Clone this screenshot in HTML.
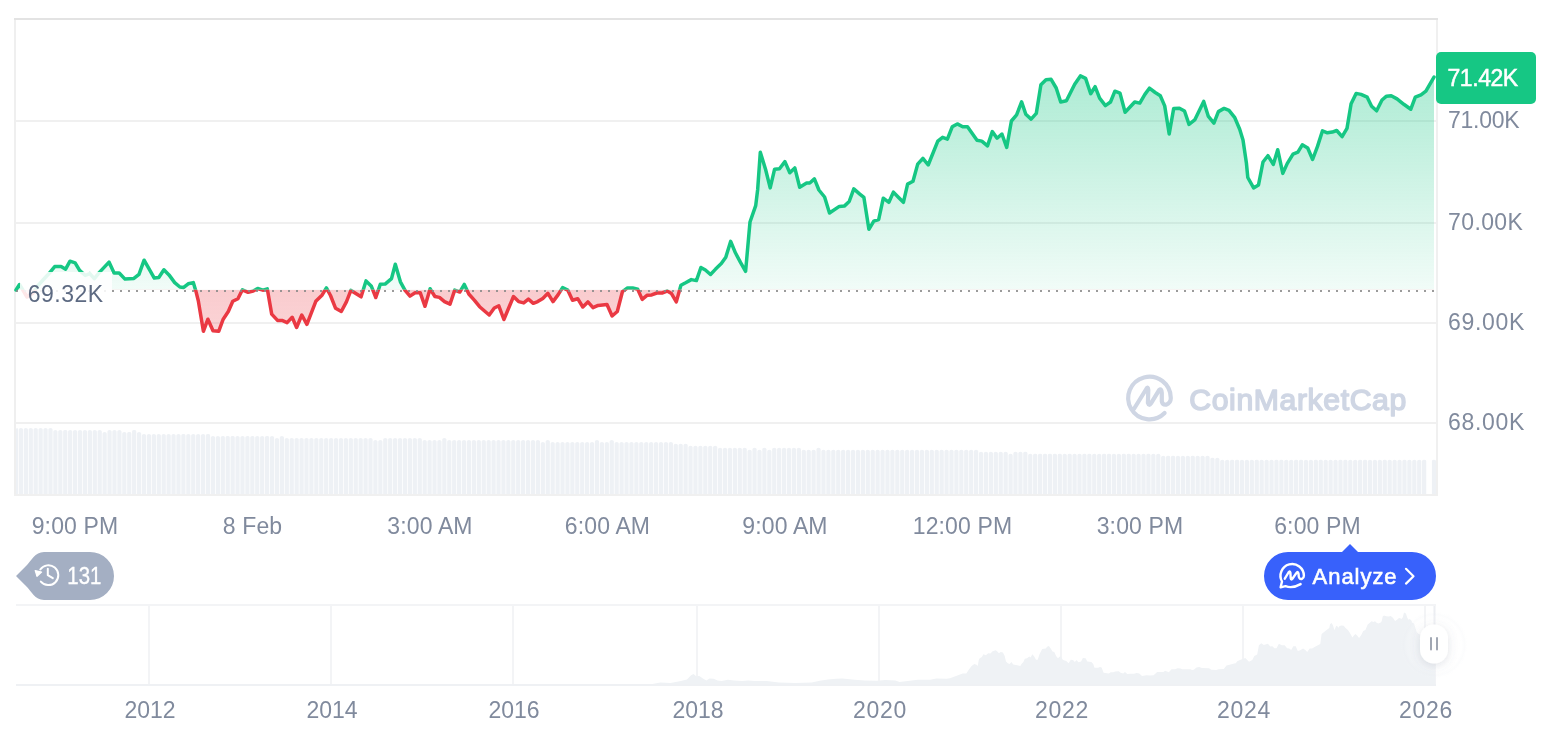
<!DOCTYPE html><html><head><meta charset="utf-8"><title>BTC chart</title><style>
html,body{margin:0;padding:0;background:#fff;width:1566px;height:732px;overflow:hidden}
svg{display:block;will-change:transform}
text{font-family:"Liberation Sans",Arial,sans-serif}
</style></head><body>
<svg width="1566" height="732" viewBox="0 0 1566 732">
<defs>
<linearGradient id="gg" x1="0" y1="76" x2="0" y2="289.75" gradientUnits="userSpaceOnUse"><stop offset="0" stop-color="#16c784" stop-opacity="0.35"/><stop offset="1" stop-color="#16c784" stop-opacity="0.06"/></linearGradient>
<linearGradient id="rg" x1="0" y1="289.75" x2="0" y2="333" gradientUnits="userSpaceOnUse"><stop offset="0" stop-color="#ea3943" stop-opacity="0.26"/><stop offset="1" stop-color="#ea3943" stop-opacity="0.22"/></linearGradient>
<clipPath id="cu"><rect x="0" y="0" width="1436" height="289.75"/><rect x="0" y="0" width="19" height="300"/></clipPath>
<clipPath id="cd"><rect x="19" y="289.75" width="1417" height="300"/></clipPath>
<filter id="sh" x="-100%" y="-100%" width="300%" height="300%"><feDropShadow dx="0" dy="2" stdDeviation="5" flood-color="#58667e" flood-opacity="0.18"/></filter>
</defs>
<rect x="14" y="18" width="2" height="478" fill="#efefef"/>
<rect x="1436" y="18" width="2" height="478" fill="#f0f0f0"/>
<rect x="14" y="18" width="1424" height="2" fill="#e3e3e3"/>
<rect x="14" y="494" width="1424" height="2" fill="#f0f0f0"/>
<rect x="16" y="120" width="1420" height="2" fill="#f0f0f0"/>
<rect x="16" y="222" width="1420" height="2" fill="#f0f0f0"/>
<rect x="16" y="322" width="1420" height="2" fill="#f0f0f0"/>
<rect x="16" y="422" width="1420" height="2" fill="#f0f0f0"/>
<path d="M16.00 494V429.5a1.05 1.5 0 0 1 2.10 0V494z M18.82 494V429.5a2.10 1.5 0 0 1 4.20 0V494z M23.75 494V429.5a2.10 1.5 0 0 1 4.20 0V494z M28.67 494V429.5a2.10 1.5 0 0 1 4.20 0V494z M33.59 494V429.5a2.10 1.5 0 0 1 4.20 0V494z M38.52 494V429.5a2.10 1.5 0 0 1 4.20 0V494z M43.44 494V429.5a2.10 1.5 0 0 1 4.20 0V494z M48.37 494V429.5a2.10 1.5 0 0 1 4.20 0V494z M53.29 494V431.6a2.10 1.5 0 0 1 4.20 0V494z M58.21 494V431.6a2.10 1.5 0 0 1 4.20 0V494z M63.14 494V431.6a2.10 1.5 0 0 1 4.20 0V494z M68.06 494V431.6a2.10 1.5 0 0 1 4.20 0V494z M72.98 494V431.6a2.10 1.5 0 0 1 4.20 0V494z M77.91 494V431.6a2.10 1.5 0 0 1 4.20 0V494z M82.83 494V431.6a2.10 1.5 0 0 1 4.20 0V494z M87.75 494V431.6a2.10 1.5 0 0 1 4.20 0V494z M92.68 494V431.6a2.10 1.5 0 0 1 4.20 0V494z M97.60 494V431.6a2.10 1.5 0 0 1 4.20 0V494z M102.53 494V433.6a2.10 1.5 0 0 1 4.20 0V494z M107.45 494V431.6a2.10 1.5 0 0 1 4.20 0V494z M112.37 494V431.6a2.10 1.5 0 0 1 4.20 0V494z M117.30 494V431.6a2.10 1.5 0 0 1 4.20 0V494z M122.22 494V433.6a2.10 1.5 0 0 1 4.20 0V494z M127.14 494V433.6a2.10 1.5 0 0 1 4.20 0V494z M132.07 494V431.6a2.10 1.5 0 0 1 4.20 0V494z M136.99 494V433.6a2.10 1.5 0 0 1 4.20 0V494z M141.91 494V435.6a2.10 1.5 0 0 1 4.20 0V494z M146.84 494V435.6a2.10 1.5 0 0 1 4.20 0V494z M151.76 494V435.6a2.10 1.5 0 0 1 4.20 0V494z M156.68 494V435.6a2.10 1.5 0 0 1 4.20 0V494z M161.61 494V435.6a2.10 1.5 0 0 1 4.20 0V494z M166.53 494V435.6a2.10 1.5 0 0 1 4.20 0V494z M171.46 494V435.6a2.10 1.5 0 0 1 4.20 0V494z M176.38 494V435.6a2.10 1.5 0 0 1 4.20 0V494z M181.30 494V435.6a2.10 1.5 0 0 1 4.20 0V494z M186.23 494V435.6a2.10 1.5 0 0 1 4.20 0V494z M191.15 494V435.6a2.10 1.5 0 0 1 4.20 0V494z M196.07 494V435.6a2.10 1.5 0 0 1 4.20 0V494z M201.00 494V435.6a2.10 1.5 0 0 1 4.20 0V494z M205.92 494V435.6a2.10 1.5 0 0 1 4.20 0V494z M210.84 494V437.5a2.10 1.5 0 0 1 4.20 0V494z M215.77 494V437.5a2.10 1.5 0 0 1 4.20 0V494z M220.69 494V437.5a2.10 1.5 0 0 1 4.20 0V494z M225.62 494V437.5a2.10 1.5 0 0 1 4.20 0V494z M230.54 494V437.5a2.10 1.5 0 0 1 4.20 0V494z M235.46 494V437.5a2.10 1.5 0 0 1 4.20 0V494z M240.39 494V437.5a2.10 1.5 0 0 1 4.20 0V494z M245.31 494V437.5a2.10 1.5 0 0 1 4.20 0V494z M250.23 494V437.5a2.10 1.5 0 0 1 4.20 0V494z M255.16 494V437.5a2.10 1.5 0 0 1 4.20 0V494z M260.08 494V437.5a2.10 1.5 0 0 1 4.20 0V494z M265.00 494V437.5a2.10 1.5 0 0 1 4.20 0V494z M269.93 494V437.5a2.10 1.5 0 0 1 4.20 0V494z M274.85 494V439.4a2.10 1.5 0 0 1 4.20 0V494z M279.77 494V437.5a2.10 1.5 0 0 1 4.20 0V494z M284.70 494V439.4a2.10 1.5 0 0 1 4.20 0V494z M289.62 494V439.4a2.10 1.5 0 0 1 4.20 0V494z M294.55 494V439.4a2.10 1.5 0 0 1 4.20 0V494z M299.47 494V439.4a2.10 1.5 0 0 1 4.20 0V494z M304.39 494V439.4a2.10 1.5 0 0 1 4.20 0V494z M309.32 494V439.4a2.10 1.5 0 0 1 4.20 0V494z M314.24 494V439.4a2.10 1.5 0 0 1 4.20 0V494z M319.16 494V439.4a2.10 1.5 0 0 1 4.20 0V494z M324.09 494V439.4a2.10 1.5 0 0 1 4.20 0V494z M329.01 494V439.4a2.10 1.5 0 0 1 4.20 0V494z M333.93 494V439.4a2.10 1.5 0 0 1 4.20 0V494z M338.86 494V439.4a2.10 1.5 0 0 1 4.20 0V494z M343.78 494V439.4a2.10 1.5 0 0 1 4.20 0V494z M348.71 494V439.4a2.10 1.5 0 0 1 4.20 0V494z M353.63 494V439.4a2.10 1.5 0 0 1 4.20 0V494z M358.55 494V439.4a2.10 1.5 0 0 1 4.20 0V494z M363.48 494V439.4a2.10 1.5 0 0 1 4.20 0V494z M368.40 494V439.4a2.10 1.5 0 0 1 4.20 0V494z M373.32 494V441.4a2.10 1.5 0 0 1 4.20 0V494z M378.25 494V441.4a2.10 1.5 0 0 1 4.20 0V494z M383.17 494V439.4a2.10 1.5 0 0 1 4.20 0V494z M388.09 494V439.4a2.10 1.5 0 0 1 4.20 0V494z M393.02 494V439.4a2.10 1.5 0 0 1 4.20 0V494z M397.94 494V439.4a2.10 1.5 0 0 1 4.20 0V494z M402.87 494V439.4a2.10 1.5 0 0 1 4.20 0V494z M407.79 494V439.4a2.10 1.5 0 0 1 4.20 0V494z M412.71 494V439.4a2.10 1.5 0 0 1 4.20 0V494z M417.64 494V439.4a2.10 1.5 0 0 1 4.20 0V494z M422.56 494V441.4a2.10 1.5 0 0 1 4.20 0V494z M427.48 494V441.4a2.10 1.5 0 0 1 4.20 0V494z M432.41 494V441.4a2.10 1.5 0 0 1 4.20 0V494z M437.33 494V441.4a2.10 1.5 0 0 1 4.20 0V494z M442.25 494V439.4a2.10 1.5 0 0 1 4.20 0V494z M447.18 494V441.4a2.10 1.5 0 0 1 4.20 0V494z M452.10 494V441.4a2.10 1.5 0 0 1 4.20 0V494z M457.02 494V441.4a2.10 1.5 0 0 1 4.20 0V494z M461.95 494V441.4a2.10 1.5 0 0 1 4.20 0V494z M466.87 494V441.4a2.10 1.5 0 0 1 4.20 0V494z M471.80 494V441.4a2.10 1.5 0 0 1 4.20 0V494z M476.72 494V441.4a2.10 1.5 0 0 1 4.20 0V494z M481.64 494V441.4a2.10 1.5 0 0 1 4.20 0V494z M486.57 494V441.4a2.10 1.5 0 0 1 4.20 0V494z M491.49 494V441.4a2.10 1.5 0 0 1 4.20 0V494z M496.41 494V441.4a2.10 1.5 0 0 1 4.20 0V494z M501.34 494V441.4a2.10 1.5 0 0 1 4.20 0V494z M506.26 494V441.4a2.10 1.5 0 0 1 4.20 0V494z M511.18 494V441.4a2.10 1.5 0 0 1 4.20 0V494z M516.11 494V441.4a2.10 1.5 0 0 1 4.20 0V494z M521.03 494V441.4a2.10 1.5 0 0 1 4.20 0V494z M525.96 494V441.4a2.10 1.5 0 0 1 4.20 0V494z M530.88 494V441.4a2.10 1.5 0 0 1 4.20 0V494z M535.80 494V441.4a2.10 1.5 0 0 1 4.20 0V494z M540.73 494V443.4a2.10 1.5 0 0 1 4.20 0V494z M545.65 494V441.4a2.10 1.5 0 0 1 4.20 0V494z M550.57 494V443.4a2.10 1.5 0 0 1 4.20 0V494z M555.50 494V443.4a2.10 1.5 0 0 1 4.20 0V494z M560.42 494V443.4a2.10 1.5 0 0 1 4.20 0V494z M565.34 494V443.4a2.10 1.5 0 0 1 4.20 0V494z M570.27 494V443.4a2.10 1.5 0 0 1 4.20 0V494z M575.19 494V443.4a2.10 1.5 0 0 1 4.20 0V494z M580.12 494V443.4a2.10 1.5 0 0 1 4.20 0V494z M585.04 494V443.4a2.10 1.5 0 0 1 4.20 0V494z M589.96 494V443.4a2.10 1.5 0 0 1 4.20 0V494z M594.89 494V441.4a2.10 1.5 0 0 1 4.20 0V494z M599.81 494V443.4a2.10 1.5 0 0 1 4.20 0V494z M604.73 494V443.4a2.10 1.5 0 0 1 4.20 0V494z M609.66 494V441.4a2.10 1.5 0 0 1 4.20 0V494z M614.58 494V443.4a2.10 1.5 0 0 1 4.20 0V494z M619.50 494V443.4a2.10 1.5 0 0 1 4.20 0V494z M624.43 494V443.4a2.10 1.5 0 0 1 4.20 0V494z M629.35 494V443.4a2.10 1.5 0 0 1 4.20 0V494z M634.27 494V443.4a2.10 1.5 0 0 1 4.20 0V494z M639.20 494V443.4a2.10 1.5 0 0 1 4.20 0V494z M644.12 494V443.4a2.10 1.5 0 0 1 4.20 0V494z M649.05 494V443.4a2.10 1.5 0 0 1 4.20 0V494z M653.97 494V443.4a2.10 1.5 0 0 1 4.20 0V494z M658.89 494V443.4a2.10 1.5 0 0 1 4.20 0V494z M663.82 494V443.4a2.10 1.5 0 0 1 4.20 0V494z M668.74 494V443.4a2.10 1.5 0 0 1 4.20 0V494z M673.66 494V445.3a2.10 1.5 0 0 1 4.20 0V494z M678.59 494V445.3a2.10 1.5 0 0 1 4.20 0V494z M683.51 494V445.3a2.10 1.5 0 0 1 4.20 0V494z M688.43 494V447.3a2.10 1.5 0 0 1 4.20 0V494z M693.36 494V447.3a2.10 1.5 0 0 1 4.20 0V494z M698.28 494V447.3a2.10 1.5 0 0 1 4.20 0V494z M703.21 494V447.3a2.10 1.5 0 0 1 4.20 0V494z M708.13 494V447.3a2.10 1.5 0 0 1 4.20 0V494z M713.05 494V447.3a2.10 1.5 0 0 1 4.20 0V494z M717.98 494V449.3a2.10 1.5 0 0 1 4.20 0V494z M722.90 494V449.3a2.10 1.5 0 0 1 4.20 0V494z M727.82 494V449.3a2.10 1.5 0 0 1 4.20 0V494z M732.75 494V449.3a2.10 1.5 0 0 1 4.20 0V494z M737.67 494V449.3a2.10 1.5 0 0 1 4.20 0V494z M742.59 494V449.3a2.10 1.5 0 0 1 4.20 0V494z M747.52 494V451.3a2.10 1.5 0 0 1 4.20 0V494z M752.44 494V449.3a2.10 1.5 0 0 1 4.20 0V494z M757.37 494V451.3a2.10 1.5 0 0 1 4.20 0V494z M762.29 494V449.3a2.10 1.5 0 0 1 4.20 0V494z M767.21 494V451.3a2.10 1.5 0 0 1 4.20 0V494z M772.14 494V449.3a2.10 1.5 0 0 1 4.20 0V494z M777.06 494V449.3a2.10 1.5 0 0 1 4.20 0V494z M781.98 494V449.3a2.10 1.5 0 0 1 4.20 0V494z M786.91 494V449.3a2.10 1.5 0 0 1 4.20 0V494z M791.83 494V449.3a2.10 1.5 0 0 1 4.20 0V494z M796.75 494V449.3a2.10 1.5 0 0 1 4.20 0V494z M801.68 494V451.3a2.10 1.5 0 0 1 4.20 0V494z M806.60 494V451.3a2.10 1.5 0 0 1 4.20 0V494z M811.52 494V451.3a2.10 1.5 0 0 1 4.20 0V494z M816.45 494V449.3a2.10 1.5 0 0 1 4.20 0V494z M821.37 494V451.3a2.10 1.5 0 0 1 4.20 0V494z M826.30 494V451.3a2.10 1.5 0 0 1 4.20 0V494z M831.22 494V451.3a2.10 1.5 0 0 1 4.20 0V494z M836.14 494V451.3a2.10 1.5 0 0 1 4.20 0V494z M841.07 494V451.3a2.10 1.5 0 0 1 4.20 0V494z M845.99 494V451.3a2.10 1.5 0 0 1 4.20 0V494z M850.91 494V451.3a2.10 1.5 0 0 1 4.20 0V494z M855.84 494V451.3a2.10 1.5 0 0 1 4.20 0V494z M860.76 494V451.3a2.10 1.5 0 0 1 4.20 0V494z M865.68 494V451.3a2.10 1.5 0 0 1 4.20 0V494z M870.61 494V451.3a2.10 1.5 0 0 1 4.20 0V494z M875.53 494V451.3a2.10 1.5 0 0 1 4.20 0V494z M880.46 494V451.3a2.10 1.5 0 0 1 4.20 0V494z M885.38 494V451.3a2.10 1.5 0 0 1 4.20 0V494z M890.30 494V451.3a2.10 1.5 0 0 1 4.20 0V494z M895.23 494V451.3a2.10 1.5 0 0 1 4.20 0V494z M900.15 494V451.3a2.10 1.5 0 0 1 4.20 0V494z M905.07 494V451.3a2.10 1.5 0 0 1 4.20 0V494z M910.00 494V451.3a2.10 1.5 0 0 1 4.20 0V494z M914.92 494V451.3a2.10 1.5 0 0 1 4.20 0V494z M919.84 494V451.3a2.10 1.5 0 0 1 4.20 0V494z M924.77 494V451.3a2.10 1.5 0 0 1 4.20 0V494z M929.69 494V451.3a2.10 1.5 0 0 1 4.20 0V494z M934.62 494V451.3a2.10 1.5 0 0 1 4.20 0V494z M939.54 494V451.3a2.10 1.5 0 0 1 4.20 0V494z M944.46 494V451.3a2.10 1.5 0 0 1 4.20 0V494z M949.39 494V451.3a2.10 1.5 0 0 1 4.20 0V494z M954.31 494V451.3a2.10 1.5 0 0 1 4.20 0V494z M959.23 494V451.3a2.10 1.5 0 0 1 4.20 0V494z M964.16 494V451.3a2.10 1.5 0 0 1 4.20 0V494z M969.08 494V451.3a2.10 1.5 0 0 1 4.20 0V494z M974.00 494V451.3a2.10 1.5 0 0 1 4.20 0V494z M978.93 494V453.3a2.10 1.5 0 0 1 4.20 0V494z M983.85 494V453.3a2.10 1.5 0 0 1 4.20 0V494z M988.77 494V453.3a2.10 1.5 0 0 1 4.20 0V494z M993.70 494V453.3a2.10 1.5 0 0 1 4.20 0V494z M998.62 494V453.3a2.10 1.5 0 0 1 4.20 0V494z M1003.55 494V453.3a2.10 1.5 0 0 1 4.20 0V494z M1008.47 494V455.3a2.10 1.5 0 0 1 4.20 0V494z M1013.39 494V453.3a2.10 1.5 0 0 1 4.20 0V494z M1018.32 494V453.3a2.10 1.5 0 0 1 4.20 0V494z M1023.24 494V453.3a2.10 1.5 0 0 1 4.20 0V494z M1028.16 494V455.3a2.10 1.5 0 0 1 4.20 0V494z M1033.09 494V455.3a2.10 1.5 0 0 1 4.20 0V494z M1038.01 494V455.3a2.10 1.5 0 0 1 4.20 0V494z M1042.93 494V455.3a2.10 1.5 0 0 1 4.20 0V494z M1047.86 494V455.3a2.10 1.5 0 0 1 4.20 0V494z M1052.78 494V455.3a2.10 1.5 0 0 1 4.20 0V494z M1057.71 494V455.3a2.10 1.5 0 0 1 4.20 0V494z M1062.63 494V455.3a2.10 1.5 0 0 1 4.20 0V494z M1067.55 494V455.3a2.10 1.5 0 0 1 4.20 0V494z M1072.48 494V455.3a2.10 1.5 0 0 1 4.20 0V494z M1077.40 494V455.3a2.10 1.5 0 0 1 4.20 0V494z M1082.32 494V455.3a2.10 1.5 0 0 1 4.20 0V494z M1087.25 494V455.3a2.10 1.5 0 0 1 4.20 0V494z M1092.17 494V455.3a2.10 1.5 0 0 1 4.20 0V494z M1097.09 494V455.3a2.10 1.5 0 0 1 4.20 0V494z M1102.02 494V455.3a2.10 1.5 0 0 1 4.20 0V494z M1106.94 494V455.3a2.10 1.5 0 0 1 4.20 0V494z M1111.87 494V455.3a2.10 1.5 0 0 1 4.20 0V494z M1116.79 494V455.3a2.10 1.5 0 0 1 4.20 0V494z M1121.71 494V455.3a2.10 1.5 0 0 1 4.20 0V494z M1126.64 494V455.3a2.10 1.5 0 0 1 4.20 0V494z M1131.56 494V455.3a2.10 1.5 0 0 1 4.20 0V494z M1136.48 494V455.3a2.10 1.5 0 0 1 4.20 0V494z M1141.41 494V455.3a2.10 1.5 0 0 1 4.20 0V494z M1146.33 494V455.3a2.10 1.5 0 0 1 4.20 0V494z M1151.25 494V455.3a2.10 1.5 0 0 1 4.20 0V494z M1156.18 494V455.3a2.10 1.5 0 0 1 4.20 0V494z M1161.10 494V457.3a2.10 1.5 0 0 1 4.20 0V494z M1166.03 494V457.3a2.10 1.5 0 0 1 4.20 0V494z M1170.95 494V457.3a2.10 1.5 0 0 1 4.20 0V494z M1175.87 494V457.3a2.10 1.5 0 0 1 4.20 0V494z M1180.80 494V457.3a2.10 1.5 0 0 1 4.20 0V494z M1185.72 494V457.3a2.10 1.5 0 0 1 4.20 0V494z M1190.64 494V457.3a2.10 1.5 0 0 1 4.20 0V494z M1195.57 494V457.3a2.10 1.5 0 0 1 4.20 0V494z M1200.49 494V457.3a2.10 1.5 0 0 1 4.20 0V494z M1205.41 494V457.3a2.10 1.5 0 0 1 4.20 0V494z M1210.34 494V459.3a2.10 1.5 0 0 1 4.20 0V494z M1215.26 494V459.3a2.10 1.5 0 0 1 4.20 0V494z M1220.18 494V461.3a2.10 1.5 0 0 1 4.20 0V494z M1225.11 494V461.3a2.10 1.5 0 0 1 4.20 0V494z M1230.03 494V461.3a2.10 1.5 0 0 1 4.20 0V494z M1234.96 494V461.3a2.10 1.5 0 0 1 4.20 0V494z M1239.88 494V461.3a2.10 1.5 0 0 1 4.20 0V494z M1244.80 494V461.3a2.10 1.5 0 0 1 4.20 0V494z M1249.73 494V461.3a2.10 1.5 0 0 1 4.20 0V494z M1254.65 494V461.3a2.10 1.5 0 0 1 4.20 0V494z M1259.57 494V461.3a2.10 1.5 0 0 1 4.20 0V494z M1264.50 494V461.3a2.10 1.5 0 0 1 4.20 0V494z M1269.42 494V461.3a2.10 1.5 0 0 1 4.20 0V494z M1274.34 494V461.3a2.10 1.5 0 0 1 4.20 0V494z M1279.27 494V461.3a2.10 1.5 0 0 1 4.20 0V494z M1284.19 494V461.3a2.10 1.5 0 0 1 4.20 0V494z M1289.12 494V461.3a2.10 1.5 0 0 1 4.20 0V494z M1294.04 494V461.3a2.10 1.5 0 0 1 4.20 0V494z M1298.96 494V461.3a2.10 1.5 0 0 1 4.20 0V494z M1303.89 494V461.3a2.10 1.5 0 0 1 4.20 0V494z M1308.81 494V461.3a2.10 1.5 0 0 1 4.20 0V494z M1313.73 494V461.3a2.10 1.5 0 0 1 4.20 0V494z M1318.66 494V461.3a2.10 1.5 0 0 1 4.20 0V494z M1323.58 494V461.3a2.10 1.5 0 0 1 4.20 0V494z M1328.50 494V461.3a2.10 1.5 0 0 1 4.20 0V494z M1333.43 494V461.3a2.10 1.5 0 0 1 4.20 0V494z M1338.35 494V461.3a2.10 1.5 0 0 1 4.20 0V494z M1343.28 494V461.3a2.10 1.5 0 0 1 4.20 0V494z M1348.20 494V461.3a2.10 1.5 0 0 1 4.20 0V494z M1353.12 494V461.3a2.10 1.5 0 0 1 4.20 0V494z M1358.05 494V461.3a2.10 1.5 0 0 1 4.20 0V494z M1362.97 494V461.3a2.10 1.5 0 0 1 4.20 0V494z M1367.89 494V461.3a2.10 1.5 0 0 1 4.20 0V494z M1372.82 494V461.3a2.10 1.5 0 0 1 4.20 0V494z M1377.74 494V461.3a2.10 1.5 0 0 1 4.20 0V494z M1382.66 494V461.3a2.10 1.5 0 0 1 4.20 0V494z M1387.59 494V461.3a2.10 1.5 0 0 1 4.20 0V494z M1392.51 494V461.3a2.10 1.5 0 0 1 4.20 0V494z M1397.43 494V461.3a2.10 1.5 0 0 1 4.20 0V494z M1402.36 494V461.3a2.10 1.5 0 0 1 4.20 0V494z M1407.28 494V461.3a2.10 1.5 0 0 1 4.20 0V494z M1412.21 494V461.3a2.10 1.5 0 0 1 4.20 0V494z M1417.13 494V461.3a2.10 1.5 0 0 1 4.20 0V494z M1422.05 494V461.3a2.10 1.5 0 0 1 4.20 0V494z M1431.90 494V461.3a2.05 1.5 0 0 1 4.10 0V494z" fill="#eef1f5"/>
<polygon points="16.0,290.0 19.5,284.5 27.0,297.0 33.0,293.0 38.0,285.5 48.3,274.3 54.7,266.6 61.1,266.6 65.6,269.2 70.0,261.2 75.1,262.8 79.6,270.4 85.3,275.5 89.8,273.6 94.3,278.7 99.4,272.4 109.0,262.1 114.1,273.0 119.2,273.0 125.0,279.1 133.9,278.4 139.0,274.3 144.1,260.2 149.2,269.2 154.3,278.1 158.8,277.5 163.9,269.8 169.0,274.9 174.7,282.6 179.9,287.0 183.7,287.4 188.2,283.8 193.3,282.6 195.7,290.4 198.3,300.7 203.4,331.3 207.9,319.2 213.0,330.7 218.7,331.3 223.2,319.2 228.3,311.5 232.8,301.3 237.9,298.7 242.4,289.8 248.1,292.3 253.2,291.1 257.7,288.5 262.8,290.2 267.3,288.9 271.7,314.1 277.5,320.4 282.0,320.4 287.1,322.6 292.2,317.3 296.6,327.5 301.8,315.0 306.9,324.3 315.8,301.3 322.2,294.9 326.4,287.9 330.5,295.5 335.6,308.3 341.3,311.5 346.4,301.9 350.9,290.4 361.1,296.8 366.0,280.9 371.4,286.3 375.8,297.5 380.3,284.3 385.1,284.1 391.5,278.6 395.3,264.2 400.4,281.8 404.9,290.1 410.0,296.1 415.1,292.7 420.2,292.7 425.0,306.3 430.1,288.8 434.9,296.5 439.4,297.4 444.5,301.6 450.0,304.2 454.7,290.1 459.8,292.0 464.3,284.4 468.8,294.0 474.5,300.3 479.6,306.7 489.2,315.0 494.3,308.0 498.8,305.8 503.9,319.5 513.5,296.5 518.6,301.6 523.7,302.9 528.4,299.1 533.3,303.3 537.7,301.6 542.8,298.4 547.9,293.3 553.0,301.6 558.2,294.6 562.6,287.6 567.7,290.1 572.5,300.2 577.7,298.7 582.8,307.0 587.9,301.9 593.0,307.7 598.1,305.4 607.0,304.5 612.1,316.0 617.3,311.5 622.4,291.7 627.5,287.9 632.6,287.9 637.7,289.2 642.2,299.4 647.3,295.2 651.7,294.9 656.8,293.0 662.0,293.0 667.1,291.1 671.5,293.6 676.3,301.9 680.9,285.3 685.6,282.8 691.3,279.6 696.4,280.6 700.9,267.5 705.4,270.0 710.5,274.5 715.6,269.1 721.3,263.6 725.8,257.2 730.7,241.3 735.4,252.8 740.5,262.4 745.6,271.3 750.0,222.0 755.7,205.6 757.7,189.2 760.3,152.3 765.6,169.5 770.2,187.9 774.6,169.2 779.5,168.7 784.9,161.6 789.8,172.8 794.8,167.9 799.7,187.2 806.6,183.0 809.8,183.0 814.4,178.9 818.9,190.0 824.6,197.0 829.5,213.0 839.3,206.4 844.3,206.1 849.2,201.5 853.8,188.9 859.8,194.1 863.9,197.4 868.9,229.3 873.8,221.1 878.7,219.5 883.3,198.2 888.9,202.3 893.4,192.1 898.6,197.5 903.4,202.3 907.6,184.1 913.0,181.3 917.7,164.1 922.9,158.3 928.2,165.0 937.8,141.1 942.6,137.3 947.4,139.2 952.2,126.8 957.3,123.9 962.7,126.8 967.5,126.8 977.0,140.2 981.8,141.1 987.5,145.9 992.3,131.6 997.1,138.2 1001.9,134.0 1006.7,147.4 1011.4,121.0 1016.6,114.9 1021.6,101.9 1025.8,114.3 1031.1,119.1 1036.3,113.4 1040.9,84.8 1046.0,79.7 1051.1,79.3 1056.2,88.0 1060.7,102.0 1066.4,100.8 1074.7,84.2 1080.4,75.9 1085.6,78.4 1090.7,93.7 1095.1,86.7 1099.6,98.2 1105.4,105.6 1110.5,102.0 1114.9,91.2 1120.0,93.1 1125.1,112.3 1134.7,102.0 1139.8,103.1 1144.9,94.4 1149.4,88.2 1155.2,92.5 1160.3,95.7 1164.7,105.9 1169.2,134.0 1173.7,108.4 1179.4,108.2 1184.5,111.0 1189.0,124.4 1194.7,119.9 1203.7,101.4 1208.2,116.1 1213.9,123.1 1218.4,111.6 1224.1,108.4 1229.0,110.3 1234.8,117.7 1239.7,129.2 1243.0,140.0 1246.4,163.0 1247.8,177.5 1253.6,187.9 1258.5,184.9 1263.0,162.0 1267.9,155.7 1273.3,164.4 1277.7,149.7 1282.8,173.4 1287.2,163.6 1293.0,154.1 1297.9,152.1 1302.3,144.8 1307.7,148.0 1312.6,159.5 1317.5,146.4 1322.5,130.8 1327.4,132.8 1332.3,132.1 1336.7,130.5 1342.1,136.6 1347.0,128.4 1351.1,103.8 1356.1,93.4 1361.0,94.4 1367.2,97.2 1371.6,106.2 1376.6,110.8 1382.0,100.0 1386.5,96.2 1391.2,95.7 1397.0,98.9 1403.8,104.3 1410.8,109.2 1415.3,97.2 1421.0,94.8 1425.9,91.1 1434.0,77.1 1434.0,289.8 16.0,289.8" fill="url(#gg)" clip-path="url(#cu)"/>
<polygon points="16.0,290.0 19.5,284.5 27.0,297.0 33.0,293.0 38.0,285.5 48.3,274.3 54.7,266.6 61.1,266.6 65.6,269.2 70.0,261.2 75.1,262.8 79.6,270.4 85.3,275.5 89.8,273.6 94.3,278.7 99.4,272.4 109.0,262.1 114.1,273.0 119.2,273.0 125.0,279.1 133.9,278.4 139.0,274.3 144.1,260.2 149.2,269.2 154.3,278.1 158.8,277.5 163.9,269.8 169.0,274.9 174.7,282.6 179.9,287.0 183.7,287.4 188.2,283.8 193.3,282.6 195.7,290.4 198.3,300.7 203.4,331.3 207.9,319.2 213.0,330.7 218.7,331.3 223.2,319.2 228.3,311.5 232.8,301.3 237.9,298.7 242.4,289.8 248.1,292.3 253.2,291.1 257.7,288.5 262.8,290.2 267.3,288.9 271.7,314.1 277.5,320.4 282.0,320.4 287.1,322.6 292.2,317.3 296.6,327.5 301.8,315.0 306.9,324.3 315.8,301.3 322.2,294.9 326.4,287.9 330.5,295.5 335.6,308.3 341.3,311.5 346.4,301.9 350.9,290.4 361.1,296.8 366.0,280.9 371.4,286.3 375.8,297.5 380.3,284.3 385.1,284.1 391.5,278.6 395.3,264.2 400.4,281.8 404.9,290.1 410.0,296.1 415.1,292.7 420.2,292.7 425.0,306.3 430.1,288.8 434.9,296.5 439.4,297.4 444.5,301.6 450.0,304.2 454.7,290.1 459.8,292.0 464.3,284.4 468.8,294.0 474.5,300.3 479.6,306.7 489.2,315.0 494.3,308.0 498.8,305.8 503.9,319.5 513.5,296.5 518.6,301.6 523.7,302.9 528.4,299.1 533.3,303.3 537.7,301.6 542.8,298.4 547.9,293.3 553.0,301.6 558.2,294.6 562.6,287.6 567.7,290.1 572.5,300.2 577.7,298.7 582.8,307.0 587.9,301.9 593.0,307.7 598.1,305.4 607.0,304.5 612.1,316.0 617.3,311.5 622.4,291.7 627.5,287.9 632.6,287.9 637.7,289.2 642.2,299.4 647.3,295.2 651.7,294.9 656.8,293.0 662.0,293.0 667.1,291.1 671.5,293.6 676.3,301.9 680.9,285.3 685.6,282.8 691.3,279.6 696.4,280.6 700.9,267.5 705.4,270.0 710.5,274.5 715.6,269.1 721.3,263.6 725.8,257.2 730.7,241.3 735.4,252.8 740.5,262.4 745.6,271.3 750.0,222.0 755.7,205.6 757.7,189.2 760.3,152.3 765.6,169.5 770.2,187.9 774.6,169.2 779.5,168.7 784.9,161.6 789.8,172.8 794.8,167.9 799.7,187.2 806.6,183.0 809.8,183.0 814.4,178.9 818.9,190.0 824.6,197.0 829.5,213.0 839.3,206.4 844.3,206.1 849.2,201.5 853.8,188.9 859.8,194.1 863.9,197.4 868.9,229.3 873.8,221.1 878.7,219.5 883.3,198.2 888.9,202.3 893.4,192.1 898.6,197.5 903.4,202.3 907.6,184.1 913.0,181.3 917.7,164.1 922.9,158.3 928.2,165.0 937.8,141.1 942.6,137.3 947.4,139.2 952.2,126.8 957.3,123.9 962.7,126.8 967.5,126.8 977.0,140.2 981.8,141.1 987.5,145.9 992.3,131.6 997.1,138.2 1001.9,134.0 1006.7,147.4 1011.4,121.0 1016.6,114.9 1021.6,101.9 1025.8,114.3 1031.1,119.1 1036.3,113.4 1040.9,84.8 1046.0,79.7 1051.1,79.3 1056.2,88.0 1060.7,102.0 1066.4,100.8 1074.7,84.2 1080.4,75.9 1085.6,78.4 1090.7,93.7 1095.1,86.7 1099.6,98.2 1105.4,105.6 1110.5,102.0 1114.9,91.2 1120.0,93.1 1125.1,112.3 1134.7,102.0 1139.8,103.1 1144.9,94.4 1149.4,88.2 1155.2,92.5 1160.3,95.7 1164.7,105.9 1169.2,134.0 1173.7,108.4 1179.4,108.2 1184.5,111.0 1189.0,124.4 1194.7,119.9 1203.7,101.4 1208.2,116.1 1213.9,123.1 1218.4,111.6 1224.1,108.4 1229.0,110.3 1234.8,117.7 1239.7,129.2 1243.0,140.0 1246.4,163.0 1247.8,177.5 1253.6,187.9 1258.5,184.9 1263.0,162.0 1267.9,155.7 1273.3,164.4 1277.7,149.7 1282.8,173.4 1287.2,163.6 1293.0,154.1 1297.9,152.1 1302.3,144.8 1307.7,148.0 1312.6,159.5 1317.5,146.4 1322.5,130.8 1327.4,132.8 1332.3,132.1 1336.7,130.5 1342.1,136.6 1347.0,128.4 1351.1,103.8 1356.1,93.4 1361.0,94.4 1367.2,97.2 1371.6,106.2 1376.6,110.8 1382.0,100.0 1386.5,96.2 1391.2,95.7 1397.0,98.9 1403.8,104.3 1410.8,109.2 1415.3,97.2 1421.0,94.8 1425.9,91.1 1434.0,77.1 1434.0,289.8 16.0,289.8" fill="url(#rg)" clip-path="url(#cd)"/>
<polyline points="16.0,290.0 19.5,284.5 27.0,297.0 33.0,293.0 38.0,285.5 48.3,274.3 54.7,266.6 61.1,266.6 65.6,269.2 70.0,261.2 75.1,262.8 79.6,270.4 85.3,275.5 89.8,273.6 94.3,278.7 99.4,272.4 109.0,262.1 114.1,273.0 119.2,273.0 125.0,279.1 133.9,278.4 139.0,274.3 144.1,260.2 149.2,269.2 154.3,278.1 158.8,277.5 163.9,269.8 169.0,274.9 174.7,282.6 179.9,287.0 183.7,287.4 188.2,283.8 193.3,282.6 195.7,290.4 198.3,300.7 203.4,331.3 207.9,319.2 213.0,330.7 218.7,331.3 223.2,319.2 228.3,311.5 232.8,301.3 237.9,298.7 242.4,289.8 248.1,292.3 253.2,291.1 257.7,288.5 262.8,290.2 267.3,288.9 271.7,314.1 277.5,320.4 282.0,320.4 287.1,322.6 292.2,317.3 296.6,327.5 301.8,315.0 306.9,324.3 315.8,301.3 322.2,294.9 326.4,287.9 330.5,295.5 335.6,308.3 341.3,311.5 346.4,301.9 350.9,290.4 361.1,296.8 366.0,280.9 371.4,286.3 375.8,297.5 380.3,284.3 385.1,284.1 391.5,278.6 395.3,264.2 400.4,281.8 404.9,290.1 410.0,296.1 415.1,292.7 420.2,292.7 425.0,306.3 430.1,288.8 434.9,296.5 439.4,297.4 444.5,301.6 450.0,304.2 454.7,290.1 459.8,292.0 464.3,284.4 468.8,294.0 474.5,300.3 479.6,306.7 489.2,315.0 494.3,308.0 498.8,305.8 503.9,319.5 513.5,296.5 518.6,301.6 523.7,302.9 528.4,299.1 533.3,303.3 537.7,301.6 542.8,298.4 547.9,293.3 553.0,301.6 558.2,294.6 562.6,287.6 567.7,290.1 572.5,300.2 577.7,298.7 582.8,307.0 587.9,301.9 593.0,307.7 598.1,305.4 607.0,304.5 612.1,316.0 617.3,311.5 622.4,291.7 627.5,287.9 632.6,287.9 637.7,289.2 642.2,299.4 647.3,295.2 651.7,294.9 656.8,293.0 662.0,293.0 667.1,291.1 671.5,293.6 676.3,301.9 680.9,285.3 685.6,282.8 691.3,279.6 696.4,280.6 700.9,267.5 705.4,270.0 710.5,274.5 715.6,269.1 721.3,263.6 725.8,257.2 730.7,241.3 735.4,252.8 740.5,262.4 745.6,271.3 750.0,222.0 755.7,205.6 757.7,189.2 760.3,152.3 765.6,169.5 770.2,187.9 774.6,169.2 779.5,168.7 784.9,161.6 789.8,172.8 794.8,167.9 799.7,187.2 806.6,183.0 809.8,183.0 814.4,178.9 818.9,190.0 824.6,197.0 829.5,213.0 839.3,206.4 844.3,206.1 849.2,201.5 853.8,188.9 859.8,194.1 863.9,197.4 868.9,229.3 873.8,221.1 878.7,219.5 883.3,198.2 888.9,202.3 893.4,192.1 898.6,197.5 903.4,202.3 907.6,184.1 913.0,181.3 917.7,164.1 922.9,158.3 928.2,165.0 937.8,141.1 942.6,137.3 947.4,139.2 952.2,126.8 957.3,123.9 962.7,126.8 967.5,126.8 977.0,140.2 981.8,141.1 987.5,145.9 992.3,131.6 997.1,138.2 1001.9,134.0 1006.7,147.4 1011.4,121.0 1016.6,114.9 1021.6,101.9 1025.8,114.3 1031.1,119.1 1036.3,113.4 1040.9,84.8 1046.0,79.7 1051.1,79.3 1056.2,88.0 1060.7,102.0 1066.4,100.8 1074.7,84.2 1080.4,75.9 1085.6,78.4 1090.7,93.7 1095.1,86.7 1099.6,98.2 1105.4,105.6 1110.5,102.0 1114.9,91.2 1120.0,93.1 1125.1,112.3 1134.7,102.0 1139.8,103.1 1144.9,94.4 1149.4,88.2 1155.2,92.5 1160.3,95.7 1164.7,105.9 1169.2,134.0 1173.7,108.4 1179.4,108.2 1184.5,111.0 1189.0,124.4 1194.7,119.9 1203.7,101.4 1208.2,116.1 1213.9,123.1 1218.4,111.6 1224.1,108.4 1229.0,110.3 1234.8,117.7 1239.7,129.2 1243.0,140.0 1246.4,163.0 1247.8,177.5 1253.6,187.9 1258.5,184.9 1263.0,162.0 1267.9,155.7 1273.3,164.4 1277.7,149.7 1282.8,173.4 1287.2,163.6 1293.0,154.1 1297.9,152.1 1302.3,144.8 1307.7,148.0 1312.6,159.5 1317.5,146.4 1322.5,130.8 1327.4,132.8 1332.3,132.1 1336.7,130.5 1342.1,136.6 1347.0,128.4 1351.1,103.8 1356.1,93.4 1361.0,94.4 1367.2,97.2 1371.6,106.2 1376.6,110.8 1382.0,100.0 1386.5,96.2 1391.2,95.7 1397.0,98.9 1403.8,104.3 1410.8,109.2 1415.3,97.2 1421.0,94.8 1425.9,91.1 1434.0,77.1" fill="none" stroke="#16c784" stroke-width="3.5" stroke-linejoin="round" stroke-linecap="round" clip-path="url(#cu)"/>
<polyline points="16.0,290.0 19.5,284.5 27.0,297.0 33.0,293.0 38.0,285.5 48.3,274.3 54.7,266.6 61.1,266.6 65.6,269.2 70.0,261.2 75.1,262.8 79.6,270.4 85.3,275.5 89.8,273.6 94.3,278.7 99.4,272.4 109.0,262.1 114.1,273.0 119.2,273.0 125.0,279.1 133.9,278.4 139.0,274.3 144.1,260.2 149.2,269.2 154.3,278.1 158.8,277.5 163.9,269.8 169.0,274.9 174.7,282.6 179.9,287.0 183.7,287.4 188.2,283.8 193.3,282.6 195.7,290.4 198.3,300.7 203.4,331.3 207.9,319.2 213.0,330.7 218.7,331.3 223.2,319.2 228.3,311.5 232.8,301.3 237.9,298.7 242.4,289.8 248.1,292.3 253.2,291.1 257.7,288.5 262.8,290.2 267.3,288.9 271.7,314.1 277.5,320.4 282.0,320.4 287.1,322.6 292.2,317.3 296.6,327.5 301.8,315.0 306.9,324.3 315.8,301.3 322.2,294.9 326.4,287.9 330.5,295.5 335.6,308.3 341.3,311.5 346.4,301.9 350.9,290.4 361.1,296.8 366.0,280.9 371.4,286.3 375.8,297.5 380.3,284.3 385.1,284.1 391.5,278.6 395.3,264.2 400.4,281.8 404.9,290.1 410.0,296.1 415.1,292.7 420.2,292.7 425.0,306.3 430.1,288.8 434.9,296.5 439.4,297.4 444.5,301.6 450.0,304.2 454.7,290.1 459.8,292.0 464.3,284.4 468.8,294.0 474.5,300.3 479.6,306.7 489.2,315.0 494.3,308.0 498.8,305.8 503.9,319.5 513.5,296.5 518.6,301.6 523.7,302.9 528.4,299.1 533.3,303.3 537.7,301.6 542.8,298.4 547.9,293.3 553.0,301.6 558.2,294.6 562.6,287.6 567.7,290.1 572.5,300.2 577.7,298.7 582.8,307.0 587.9,301.9 593.0,307.7 598.1,305.4 607.0,304.5 612.1,316.0 617.3,311.5 622.4,291.7 627.5,287.9 632.6,287.9 637.7,289.2 642.2,299.4 647.3,295.2 651.7,294.9 656.8,293.0 662.0,293.0 667.1,291.1 671.5,293.6 676.3,301.9 680.9,285.3 685.6,282.8 691.3,279.6 696.4,280.6 700.9,267.5 705.4,270.0 710.5,274.5 715.6,269.1 721.3,263.6 725.8,257.2 730.7,241.3 735.4,252.8 740.5,262.4 745.6,271.3 750.0,222.0 755.7,205.6 757.7,189.2 760.3,152.3 765.6,169.5 770.2,187.9 774.6,169.2 779.5,168.7 784.9,161.6 789.8,172.8 794.8,167.9 799.7,187.2 806.6,183.0 809.8,183.0 814.4,178.9 818.9,190.0 824.6,197.0 829.5,213.0 839.3,206.4 844.3,206.1 849.2,201.5 853.8,188.9 859.8,194.1 863.9,197.4 868.9,229.3 873.8,221.1 878.7,219.5 883.3,198.2 888.9,202.3 893.4,192.1 898.6,197.5 903.4,202.3 907.6,184.1 913.0,181.3 917.7,164.1 922.9,158.3 928.2,165.0 937.8,141.1 942.6,137.3 947.4,139.2 952.2,126.8 957.3,123.9 962.7,126.8 967.5,126.8 977.0,140.2 981.8,141.1 987.5,145.9 992.3,131.6 997.1,138.2 1001.9,134.0 1006.7,147.4 1011.4,121.0 1016.6,114.9 1021.6,101.9 1025.8,114.3 1031.1,119.1 1036.3,113.4 1040.9,84.8 1046.0,79.7 1051.1,79.3 1056.2,88.0 1060.7,102.0 1066.4,100.8 1074.7,84.2 1080.4,75.9 1085.6,78.4 1090.7,93.7 1095.1,86.7 1099.6,98.2 1105.4,105.6 1110.5,102.0 1114.9,91.2 1120.0,93.1 1125.1,112.3 1134.7,102.0 1139.8,103.1 1144.9,94.4 1149.4,88.2 1155.2,92.5 1160.3,95.7 1164.7,105.9 1169.2,134.0 1173.7,108.4 1179.4,108.2 1184.5,111.0 1189.0,124.4 1194.7,119.9 1203.7,101.4 1208.2,116.1 1213.9,123.1 1218.4,111.6 1224.1,108.4 1229.0,110.3 1234.8,117.7 1239.7,129.2 1243.0,140.0 1246.4,163.0 1247.8,177.5 1253.6,187.9 1258.5,184.9 1263.0,162.0 1267.9,155.7 1273.3,164.4 1277.7,149.7 1282.8,173.4 1287.2,163.6 1293.0,154.1 1297.9,152.1 1302.3,144.8 1307.7,148.0 1312.6,159.5 1317.5,146.4 1322.5,130.8 1327.4,132.8 1332.3,132.1 1336.7,130.5 1342.1,136.6 1347.0,128.4 1351.1,103.8 1356.1,93.4 1361.0,94.4 1367.2,97.2 1371.6,106.2 1376.6,110.8 1382.0,100.0 1386.5,96.2 1391.2,95.7 1397.0,98.9 1403.8,104.3 1410.8,109.2 1415.3,97.2 1421.0,94.8 1425.9,91.1 1434.0,77.1" fill="none" stroke="#ea3943" stroke-width="3.5" stroke-linejoin="round" stroke-linecap="round" clip-path="url(#cd)"/>
<line x1="16" y1="291" x2="1434" y2="291" stroke="#8a8a8a" stroke-opacity="0.85" stroke-width="2" stroke-dasharray="2 6"/>
<rect x="20" y="272" width="92" height="44" fill="#fff" fill-opacity="0.88"/>
<text x="27.8" y="301.5" font-size="23" fill="#5d6a82" letter-spacing="0.46">69.32K</text>
<path d="M1133.9 409.0L1146.6 388.5Q1148.0 386.4 1148.3 389.9L1147.9 402.9Q1149.0 406.4 1151.0 403.4L1159.1 390.1Q1161.5 387.9 1161.8 392.9L1161.8 401.4Q1162.5 405.1 1166.1 404.7Q1170.8 402.9 1170.8 397.9A21.3 21.3 0 1 0 1164.6 413.0" fill="none" stroke="#cfd6e4" stroke-width="4.2" stroke-linecap="round" stroke-linejoin="round"/>
<text x="1189.3" y="409.6" font-size="30.2" fill="#cfd6e4" stroke="#cfd6e4" stroke-width="1.5" stroke-linejoin="round" letter-spacing="0.6">CoinMarketCap</text>
<text x="1448" y="127.8" font-size="23" fill="#808a9d" letter-spacing="-0.26">71.00K</text>
<text x="1448" y="229.8" font-size="23" fill="#808a9d" letter-spacing="0.4">70.00K</text>
<text x="1448" y="329.8" font-size="23" fill="#808a9d" letter-spacing="0.7">69.00K</text>
<text x="1448" y="429.8" font-size="23" fill="#808a9d" letter-spacing="0.7">68.00K</text>
<rect x="1436" y="52" width="100" height="52" rx="5" fill="#16c784"/>
<text x="1447.5" y="85.9" font-size="23" fill="#fff" stroke="#fff" stroke-width="0.5" letter-spacing="-0.44">71.42K</text>
<text x="75.0" y="533.7" font-size="23" fill="#808a9d" text-anchor="middle" letter-spacing="0.13">9:00 PM</text>
<text x="252.5" y="533.7" font-size="23" fill="#808a9d" text-anchor="middle" letter-spacing="0.13">8 Feb</text>
<text x="430.0" y="533.7" font-size="23" fill="#808a9d" text-anchor="middle" letter-spacing="0.13">3:00 AM</text>
<text x="607.5" y="533.7" font-size="23" fill="#808a9d" text-anchor="middle" letter-spacing="0.13">6:00 AM</text>
<text x="785.0" y="533.7" font-size="23" fill="#808a9d" text-anchor="middle" letter-spacing="0.13">9:00 AM</text>
<text x="962.5" y="533.7" font-size="23" fill="#808a9d" text-anchor="middle" letter-spacing="0.13">12:00 PM</text>
<text x="1140.0" y="533.7" font-size="23" fill="#808a9d" text-anchor="middle" letter-spacing="0.13">3:00 PM</text>
<text x="1317.5" y="533.7" font-size="23" fill="#808a9d" text-anchor="middle" letter-spacing="0.13">6:00 PM</text>
<path d="M16 576L27 565C31 561 35 552 44 552H90A24 24 0 0 1 90 600H44C35 600 31 591 27 587Z" fill="#a4afc3"/>
<path d="M40.82 581.56A9.9 9.9 0 1 0 40.29 569.52" fill="none" stroke="#fff" stroke-width="2" stroke-linecap="round"/>
<path d="M35.2 570.6L41.6 572.1L37 576.4Z" fill="#fff" stroke="#fff" stroke-width="1.2" stroke-linejoin="round"/>
<path d="M47.8 568.8V575.2L52.8 578.2" fill="none" stroke="#fff" stroke-width="2" stroke-linecap="round" stroke-linejoin="round"/>
<text x="67.3" y="583.9" font-size="23" fill="#fff" stroke="#fff" stroke-width="0.35" textLength="34" lengthAdjust="spacingAndGlyphs">131</text>
<path d="M1288 552H1342L1350 544L1358 552H1412A24 24 0 0 1 1412 600H1288A24 24 0 0 1 1288 552Z" fill="#3861fb"/>
<path d="M1284.8 578.7L1288.5 572.5Q1289.9 570.4 1290.4 572.8L1290.7 578Q1291.1 580.6 1292.6 578.5L1296.3 573.1Q1298 570.8 1298.5 573.6L1298.8 576.8Q1299.5 579.6 1302 578.8Q1303.9 578 1303.9 575.7A11.7 11.7 0 1 0 1282 581.5L1280.6 587.3L1285.5 586.2Q1292.5 588.8 1300.6 584.1" fill="none" stroke="#fff" stroke-width="2.4" stroke-linecap="round" stroke-linejoin="round"/>
<text x="1312.6" y="583.9" font-size="22" fill="#fff" stroke="#fff" stroke-width="0.6" letter-spacing="0.95">Analyze</text>
<path d="M1406 568.8L1413.5 576.2L1406 583.6" fill="none" stroke="#fff" stroke-width="2.2" stroke-linecap="round" stroke-linejoin="round"/>
<rect x="16" y="604" width="1420" height="2" fill="#f3f4f6"/>
<rect x="148" y="606" width="2" height="78" fill="#f3f4f6"/>
<rect x="330" y="606" width="2" height="78" fill="#f3f4f6"/>
<rect x="512" y="606" width="2" height="78" fill="#f3f4f6"/>
<rect x="696" y="606" width="2" height="78" fill="#f3f4f6"/>
<rect x="878" y="606" width="2" height="78" fill="#f3f4f6"/>
<rect x="1060" y="606" width="2" height="78" fill="#f3f4f6"/>
<rect x="1242" y="606" width="2" height="78" fill="#f3f4f6"/>
<rect x="1424" y="606" width="2" height="78" fill="#f3f4f6"/>
<rect x="1433.5" y="606" width="2" height="78" fill="#eceef2"/>
<polygon points="16.0,684.8 400.0,684.6 560.0,684.4 640.0,684.1 652.3,684.1 660.4,682.5 670.6,682.9 680.9,681.0 687.0,679.4 691.1,675.3 693.5,673.9 696.2,676.3 699.3,675.9 703.3,678.8 706.4,680.4 709.5,678.4 713.6,678.8 717.6,680.4 721.7,681.0 727.9,679.8 734.0,680.4 742.2,681.0 748.3,680.4 754.4,681.0 766.7,681.0 778.9,682.5 795.3,682.9 811.6,682.5 819.8,680.8 828.0,679.4 836.2,678.8 842.3,678.4 854.5,679.8 864.8,680.4 877.0,680.8 885.2,680.0 895.4,680.4 899.5,682.1 911.8,680.4 917.9,679.8 930.2,679.8 936.3,678.4 946.5,678.8 950.0,678.2 960.0,674.4 962.7,673.5 966.3,673.5 968.9,669.5 971.6,665.9 974.3,664.0 976.5,664.8 977.7,665.9 978.8,660.1 979.7,658.3 981.9,657.0 983.4,654.3 985.9,655.2 988.2,653.2 990.4,653.4 992.6,651.2 995.7,650.3 997.1,651.2 998.9,653.2 1000.7,652.1 1002.9,652.5 1004.7,656.1 1006.0,661.4 1007.8,663.2 1009.6,664.1 1011.4,661.9 1013.2,664.6 1017.2,665.2 1020.3,666.1 1021.7,663.7 1023.4,661.9 1024.8,658.8 1027.0,658.3 1029.3,656.5 1030.6,657.4 1032.4,654.3 1034.2,656.5 1036.0,659.7 1037.7,659.8 1039.5,654.3 1042.2,648.9 1045.8,648.5 1047.1,646.7 1048.9,646.1 1050.7,648.5 1052.5,651.6 1054.3,652.1 1056.1,656.1 1057.9,658.3 1060.5,656.1 1062.8,659.8 1064.6,660.6 1066.3,661.0 1068.6,663.2 1070.8,659.7 1073.0,660.1 1074.8,661.9 1076.6,660.1 1078.4,662.3 1081.1,661.4 1082.9,657.9 1085.6,658.3 1087.3,661.4 1091.4,661.9 1093.2,664.1 1094.5,667.7 1098.1,667.7 1100.0,667.0 1101.6,667.4 1103.6,672.8 1108.9,673.4 1110.7,672.2 1113.4,672.3 1115.2,671.4 1118.8,671.3 1120.6,672.8 1123.2,673.4 1125.0,671.9 1127.3,674.0 1130.4,673.7 1134.0,673.7 1136.6,673.1 1139.3,673.4 1142.0,675.9 1146.5,675.2 1150.0,675.5 1153.6,675.2 1157.2,671.9 1163.4,671.9 1165.2,670.7 1168.8,672.2 1171.5,669.2 1175.1,669.2 1177.7,668.3 1180.4,668.6 1182.2,669.2 1190.3,669.2 1192.0,670.1 1193.8,669.8 1196.5,667.4 1199.2,667.0 1201.9,667.9 1209.0,668.3 1211.3,669.8 1216.2,670.1 1218.9,669.2 1223.8,668.9 1226.5,665.6 1229.6,664.7 1234.1,663.4 1235.8,663.2 1237.2,661.2 1240.0,660.1 1245.3,658.0 1249.0,661.7 1252.3,660.1 1254.3,656.0 1257.2,654.4 1258.9,645.3 1261.3,643.3 1263.8,644.9 1267.9,643.7 1270.3,646.6 1272.4,646.2 1274.4,648.2 1276.5,648.2 1278.9,643.7 1281.8,645.2 1284.7,645.2 1287.1,648.2 1289.2,648.6 1291.2,649.9 1293.3,646.2 1295.7,646.2 1297.8,651.1 1300.2,650.3 1303.1,648.6 1305.6,650.3 1307.2,651.9 1309.7,648.6 1312.1,648.5 1314.6,647.0 1317.9,645.3 1320.3,644.1 1321.6,633.9 1324.4,631.8 1326.9,629.8 1329.3,628.1 1330.0,624.2 1331.6,623.1 1332.9,625.2 1334.5,630.3 1336.1,626.1 1337.0,625.7 1338.3,627.7 1339.6,626.1 1341.5,625.5 1343.7,625.8 1345.3,627.7 1347.9,630.0 1349.8,632.8 1352.4,637.6 1353.9,635.4 1355.5,634.1 1357.1,635.4 1359.1,637.9 1361.3,635.1 1363.2,630.9 1365.4,630.0 1367.7,624.5 1369.6,622.9 1371.5,621.3 1373.4,622.0 1375.0,621.2 1376.6,622.7 1378.2,623.6 1380.4,622.7 1381.7,621.3 1382.7,616.5 1384.0,615.5 1386.2,616.2 1388.7,616.5 1390.7,616.1 1392.9,617.8 1395.1,621.0 1397.0,619.7 1399.0,618.1 1400.2,618.3 1401.5,619.1 1402.8,617.2 1403.8,613.3 1404.7,612.4 1406.0,613.7 1407.3,617.8 1408.5,619.7 1409.8,619.1 1411.4,620.4 1412.4,622.9 1414.0,623.6 1415.2,627.1 1416.5,631.5 1418.4,633.8 1421.0,635.0 1426.0,638.0 1431.0,640.0 1435.5,642.0 1435.5,686.0 16.0,686.0" fill="#eff2f5"/>
<rect x="16" y="684" width="1420" height="2" fill="#eff1f4"/>
<radialGradient id="halo" cx="1434" cy="645" r="34" gradientUnits="userSpaceOnUse"><stop offset="0" stop-color="#fff" stop-opacity="0.3"/><stop offset="0.8" stop-color="#fff" stop-opacity="0.15"/><stop offset="0.9" stop-color="#e9ecf1" stop-opacity="0.15"/><stop offset="1" stop-color="#fff" stop-opacity="0"/></radialGradient>
<circle cx="1434" cy="645" r="34" fill="url(#halo)"/>
<rect x="1420" y="624.5" width="28" height="39" rx="14" fill="#fff" filter="url(#sh)"/>
<rect x="1430" y="637" width="2" height="13.5" rx="1" fill="#a1a7b3"/>
<rect x="1436" y="637" width="2" height="13.5" rx="1" fill="#a1a7b3"/>
<text x="150.0" y="718.1" font-size="23" fill="#808a9d" text-anchor="middle" letter-spacing="-0.1">2012</text>
<text x="332.0" y="718.1" font-size="23" fill="#808a9d" text-anchor="middle" letter-spacing="-0.1">2014</text>
<text x="514.0" y="718.1" font-size="23" fill="#808a9d" text-anchor="middle" letter-spacing="-0.1">2016</text>
<text x="698.0" y="718.1" font-size="23" fill="#808a9d" text-anchor="middle" letter-spacing="-0.1">2018</text>
<text x="880.0" y="718.1" font-size="23" fill="#808a9d" text-anchor="middle" letter-spacing="0.7">2020</text>
<text x="1062.0" y="718.1" font-size="23" fill="#808a9d" text-anchor="middle" letter-spacing="0.7">2022</text>
<text x="1244.0" y="718.1" font-size="23" fill="#808a9d" text-anchor="middle" letter-spacing="0.7">2024</text>
<text x="1426.0" y="718.1" font-size="23" fill="#808a9d" text-anchor="middle" letter-spacing="0.7">2026</text>
</svg></body></html>
